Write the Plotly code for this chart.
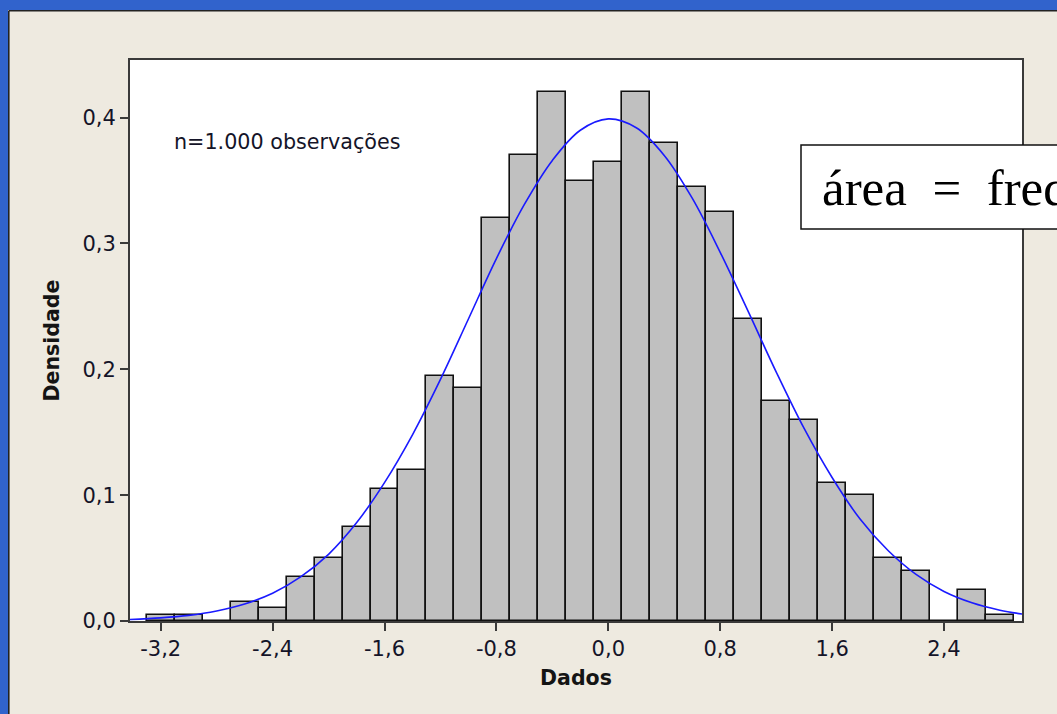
import plotly.graph_objects as go

# ---- data ----
bin_centers = [-3.2, -3.0, -2.8, -2.6, -2.4, -2.2, -2.0, -1.8, -1.6, -1.4, -1.2, -1.0,
               -0.8, -0.6, -0.4, -0.2, 0.0, 0.2, 0.4, 0.6, 0.8, 1.0, 1.2, 1.4, 1.6,
               1.8, 2.0, 2.2, 2.4, 2.6, 2.8]
density = [0.005, 0.005, 0.0, 0.015, 0.010, 0.035, 0.050, 0.075, 0.105, 0.120, 0.195, 0.185,
           0.320, 0.370, 0.420, 0.350, 0.365, 0.420, 0.380, 0.345, 0.325, 0.240, 0.175, 0.160,
           0.110, 0.100, 0.050, 0.040, 0.0, 0.025, 0.005]
bin_width = 0.2

curve_x = [-3.42, -3.2, -3.0, -2.8, -2.6, -2.4, -2.2, -2.0, -1.8, -1.6, -1.4, -1.2, -1.0,
           -0.8, -0.6, -0.4, -0.2, 0.0, 0.2, 0.4, 0.6, 0.8, 1.0, 1.2, 1.4, 1.6, 1.8,
           2.0, 2.2, 2.4, 2.6, 2.8, 2.96]
curve_y = [0.0012, 0.0025, 0.0045, 0.0080, 0.0135, 0.0220, 0.0350, 0.0530, 0.0780, 0.1100,
           0.1480, 0.1920, 0.2400, 0.2880, 0.3310, 0.3660, 0.3900, 0.3990, 0.3920, 0.3700,
           0.3360, 0.2930, 0.2460, 0.1980, 0.1530, 0.1140, 0.0810, 0.0560, 0.0370, 0.0235,
           0.0145, 0.0086, 0.0055]

x_tickvals = [-3.2, -2.4, -1.6, -0.8, 0.0, 0.8, 1.6, 2.4]
x_ticktext = ["-3,2", "-2,4", "-1,6", "-0,8", "0,0", "0,8", "1,6", "2,4"]
y_tickvals = [0.0, 0.1, 0.2, 0.3, 0.4]
y_ticktext = ["0,0", "0,1", "0,2", "0,3", "0,4"]

W, H = 1057, 714
L, R, T, B = 130, 35, 60, 93
PW, PH = W - L - R, H - T - B


def px(x):
    return (x - L) / PW


def py(y):
    return (H - B - y) / PH


fig = go.Figure()
fig.add_trace(go.Bar(
    x=bin_centers, y=density, width=bin_width,
    marker=dict(color="#C0C0C0", line=dict(color="#111111", width=1.6)),
    showlegend=False, hoverinfo="x+y"))
fig.add_trace(go.Scatter(
    x=curve_x, y=curve_y, mode="lines",
    line=dict(color="#1a1aff", width=1.6, shape="spline"),
    showlegend=False))

font_sans = "DejaVu Sans"
axis_common = dict(showline=True, mirror=True, linecolor="#3a3a3a", linewidth=2,
                   ticks="outside", ticklen=8, tickwidth=1.5, tickcolor="#3a3a3a",
                   showgrid=False, zeroline=False,
                   tickfont=dict(family=font_sans, size=21, color="#141428"))

fig.update_layout(
    width=W, height=H,
    margin=dict(l=L, r=R, t=T, b=B),
    paper_bgcolor="#EEEAE0", plot_bgcolor="#FFFFFF",
    bargap=0,
    xaxis=dict(range=[-3.4195, 2.9577], tickvals=x_tickvals, ticktext=x_ticktext,
               title=dict(text="<b>Dados</b>", standoff=10,
                          font=dict(family=font_sans, size=20.5, color="#141414")),
               **axis_common),
    yaxis=dict(range=[0, 0.4458], tickvals=y_tickvals, ticktext=y_ticktext,
               title=dict(text="<b>Densidade</b>", standoff=17,
                          font=dict(family=font_sans, size=20.5, color="#141414")),
               **axis_common),
    font=dict(family=font_sans),
)

shapes = [
    # blue slide frame (left and top)
    dict(type="rect", xref="paper", yref="paper", x0=px(0), x1=px(8), y0=py(H + 5), y1=py(-5),
         fillcolor="#3163CC", line=dict(width=0), layer="above"),
    dict(type="rect", xref="paper", yref="paper", x0=px(0), x1=px(W + 5), y0=py(10), y1=py(-5),
         fillcolor="#3163CC", line=dict(width=0), layer="above"),
    dict(type="line", xref="paper", yref="paper", x0=px(8.8), x1=px(8.8), y0=py(H + 5), y1=py(10.8),
         line=dict(color="#222222", width=1.6)),
    dict(type="line", xref="paper", yref="paper", x0=px(8.8), x1=px(W + 5), y0=py(10.8), y1=py(10.8),
         line=dict(color="#222222", width=1.6)),
    # text box
    dict(type="rect", xref="paper", yref="paper", x0=px(801), x1=px(W + 60), y0=py(229), y1=py(145),
         fillcolor="#FFFFFF", line=dict(color="#111111", width=1.5), layer="above"),
]
fig.update_layout(shapes=shapes)

fig.add_annotation(xref="paper", yref="paper", x=px(172), y=py(142), xanchor="left", yanchor="middle",
                   text="n=1.000 observações", showarrow=False,
                   font=dict(family=font_sans, size=20.7, color="#141428"))
fig.add_annotation(xref="paper", yref="paper", x=px(820), y=py(188), xanchor="left", yanchor="middle",
                   text="área\u00a0\u00a0=\u00a0\u00a0frequência relativa", showarrow=False,
                   font=dict(family="Liberation Serif", size=51, color="#000000"))

fig.write_html("out.html")
